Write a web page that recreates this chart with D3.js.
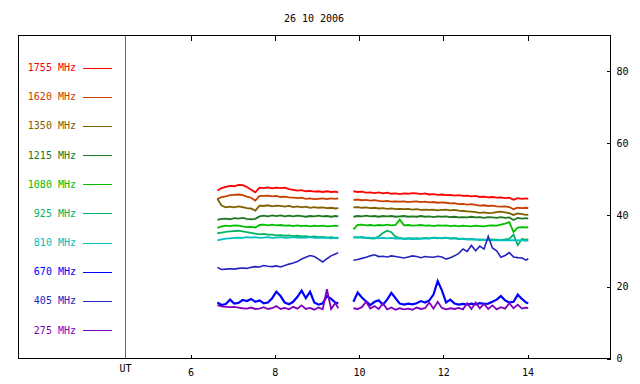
<!DOCTYPE html>
<html>
<head>
<meta charset="utf-8">
<script src="https://cdn.jsdelivr.net/npm/d3@7"></script>
<style>
  html, body { margin: 0; padding: 0; background: #fff; }
  svg { display: block; }
  text { font-family: "DejaVu Sans Mono", monospace; font-size: 10px; }
</style>
</head>
<body>
<svg id="chart" width="640" height="384"></svg>
<script>
// ---------------- data ----------------
const title = "26 10 2006";
const freqLabels = ["1755 MHz","1620 MHz","1350 MHz","1215 MHz","1080 MHz","925 MHz","810 MHz","670 MHz","405 MHz","275 MHz"];
const xTicks = [6, 8, 10, 12, 14];
const yTicks = [0, 20, 40, 60, 80];

const hours = [
  6.65,6.75,6.85,6.95,7.05,7.15,7.25,7.35,7.45,7.55, 7.65,7.75,7.85,7.95,8.05,8.15,8.25,8.35,8.45,8.55,
  8.65,8.75,8.85,8.95,9.05,9.15,9.25,9.35,9.45,9.52,
  9.7,
  9.88,9.98,10.08,10.18,10.28,10.38,10.48,10.58,10.68,10.78, 10.88,10.98,11.08,11.18,11.28,11.38,11.48,11.58,11.68,11.78,
  11.88,11.98,12.08,12.18,12.28,12.38,12.48,12.58,12.68,12.78, 12.88,12.98,13.08,13.18,13.28,13.38,13.48,13.58,13.68,13.78,
  13.88,13.98,14.03
];

const f1755 = [
  46.8,47.5,47.8,48.1,48.0,48.4,48.3,47.8,47.0,46.3, 47.6,47.5,47.7,47.4,47.6,47.5,47.6,47.2,47.0,46.8,
  46.9,46.6,46.7,46.5,46.6,46.4,46.6,46.4,46.5,46.3,
  null,
  46.6,46.4,46.5,46.2,46.3,46.1,46.3,46.0,46.2,45.9, 46.0,45.8,46.0,45.9,46.1,46.0,45.8,46.0,45.7,45.8,
  45.6,45.7,45.5,45.6,45.4,45.5,45.3,45.4,45.2,45.3, 45.0,45.1,44.9,45.0,44.8,44.9,44.7,44.8,44.2,44.7,
  44.5,44.6,44.5
];
const f1620 = [
  44.4,45.0,45.2,45.5,45.6,45.7,45.5,45.1,44.8,44.0, 45.3,45.3,45.4,45.2,45.3,45.0,45.1,44.9,44.8,44.7,
  44.8,44.5,44.6,44.4,44.5,44.6,44.4,44.6,44.5,44.6,
  null,
  44.2,44.3,44.1,44.2,44.0,44.1,43.9,43.8,43.9,43.7, 43.8,43.7,43.8,43.6,43.7,43.8,43.6,43.7,43.5,43.6,
  43.4,43.5,43.4,43.2,43.3,43.0,43.1,42.9,43.0,42.8, 42.6,42.7,42.5,42.6,42.4,42.3,42.4,42.2,41.6,42.0,
  41.9,42.0,41.9
];
const f1350 = [
  44.5,42.6,42.1,42.3,42.1,42.4,42.2,41.9,41.8,41.2, 42.6,42.5,42.7,42.4,42.6,42.5,42.3,42.5,42.2,42.4,
  42.1,42.3,42.0,42.2,42.0,42.1,41.9,42.0,41.8,41.9,
  null,
  42.1,42.2,42.0,42.1,41.9,42.0,41.8,41.9,41.7,41.8, 41.6,41.7,41.6,41.7,41.5,41.6,41.4,41.5,41.4,41.5,
  41.3,41.4,41.5,41.3,41.4,41.2,41.1,41.0,40.9,40.8, 40.6,40.7,40.5,40.6,40.8,40.9,40.7,40.5,40.0,40.4,
  40.2,40.0,40.1
];
const f1215 = [
  38.6,38.9,39.0,38.8,39.1,39.0,39.2,38.9,38.8,38.9, 39.6,39.8,39.6,39.9,39.7,39.9,39.6,39.8,39.6,39.8,
  39.7,39.5,39.7,39.6,39.8,39.6,39.7,39.5,39.7,39.6,
  null,
  39.5,39.7,39.6,39.8,39.6,39.7,39.5,39.7,39.6,39.7, 39.5,39.6,39.7,39.5,39.6,39.5,39.7,39.5,39.6,39.4,
  39.6,39.5,39.6,39.4,39.5,39.3,39.4,39.3,39.5,39.3, 39.4,39.2,39.4,39.3,39.2,39.4,39.2,39.3,38.6,39.2,
  39.0,39.1,39.0
];
const f1080 = [
  36.4,36.8,37.0,36.9,37.1,37.0,36.8,36.6,36.7,36.5, 37.2,37.3,37.1,37.3,37.1,37.2,37.0,37.1,36.9,37.1,
  36.9,37.0,36.8,37.0,36.9,37.0,36.8,36.9,37.0,36.9,
  null,
  36.0,37.2,37.3,37.1,37.2,37.0,37.2,37.1,37.3,37.1, 37.2,38.7,37.1,37.2,37.0,37.1,37.2,37.0,37.1,36.9,
  37.1,37.0,37.1,36.9,37.0,36.8,37.0,36.9,36.8,37.0, 36.9,36.8,37.0,37.1,37.0,37.3,37.6,38.0,35.2,36.5,
  36.6,36.5,36.6
];
const f925 = [
  34.9,35.1,35.3,35.4,35.5,35.6,35.4,35.2,35.0,34.8, 34.6,34.7,34.5,34.5,34.3,34.4,34.2,34.3,34.1,34.2,
  34.0,34.1,33.9,34.0,33.8,33.9,33.7,33.8,33.6,33.7,
  null,
  33.8,33.7,33.9,33.6,33.5,33.4,34.0,35.0,35.6,35.2, 33.9,33.6,33.4,33.5,33.3,33.5,33.4,33.6,33.5,33.7,
  33.6,33.5,33.6,33.4,33.5,33.3,33.4,33.2,33.3,33.1, 33.2,33.1,33.0,33.2,33.1,33.0,33.2,33.3,34.5,31.6,
  33.3,33.1,33.2
];
const f810 = [
  32.9,33.2,33.4,33.5,33.6,33.7,33.6,33.8,33.7,33.8, 33.6,33.7,33.8,33.6,33.7,33.8,33.6,33.7,33.8,33.7,
  33.6,33.7,33.8,33.6,33.7,33.6,33.7,33.5,33.6,33.5,
  null,
  33.7,33.8,33.6,33.7,33.6,33.7,33.5,33.6,33.5,33.6, 33.4,33.5,33.3,33.4,33.5,33.3,33.4,33.5,33.4,33.6,
  33.5,33.6,33.7,33.5,33.6,33.4,33.3,33.2,33.3,33.2, 33.0,33.1,33.0,32.9,33.0,32.9,33.0,32.9,33.0,32.9,
  33.0,32.8,32.9
];
const f670 = [
  15.6,14.9,15.2,16.4,15.3,15.5,16.3,16.0,16.6,15.8, 16.2,15.4,15.6,16.8,18.6,17.4,15.6,15.1,15.8,17.2,
  18.9,16.8,18.6,15.6,15.0,15.4,17.4,16.6,15.6,15.4,
  null,
  15.8,18.4,17.0,15.9,14.9,15.8,16.2,15.0,16.4,18.3, 16.8,15.3,15.0,15.3,15.1,15.4,16.0,15.6,16.2,17.8,
  21.6,19.0,15.6,16.4,15.3,15.0,15.2,15.0,15.3,15.1, 15.4,15.2,15.3,15.8,16.4,17.4,16.2,15.6,15.8,17.8,
  16.6,15.6,15.4
];
const f405 = [
  25.4,24.8,24.9,25.0,24.9,25.1,25.2,25.1,25.4,25.6, 25.5,25.9,25.7,25.6,25.8,25.5,25.9,26.3,26.6,27.0,
  27.7,28.2,28.7,28.4,27.7,26.9,27.8,28.6,29.1,29.5,
  null,
  27.4,27.6,27.9,28.2,28.6,28.9,28.4,28.5,28.3,28.6, 28.4,28.2,28.0,28.3,28.6,28.4,28.1,28.4,28.3,28.2,
  28.5,28.3,27.7,28.1,28.6,29.3,30.5,29.8,31.5,30.0, 31.3,30.5,34.0,30.8,30.0,28.2,28.7,29.5,28.3,28.1,
  28.0,27.4,27.8
];
const f275 = [
  14.9,14.5,14.4,14.3,14.4,14.2,14.0,13.9,14.2,13.8, 13.9,14.3,13.8,14.0,14.6,13.8,14.1,13.7,14.4,13.9,
  14.8,13.8,14.1,13.6,14.2,13.7,19.3,13.8,15.5,14.0,
  null,
  14.0,13.8,14.3,15.8,13.9,14.6,13.8,15.4,13.7,14.2, 13.6,14.0,13.7,13.9,13.6,14.2,13.8,14.0,15.6,13.9,
  15.8,14.1,13.7,14.0,13.8,14.1,13.7,15.4,13.8,15.6, 14.0,15.2,13.8,14.8,13.7,14.3,13.9,15.4,14.0,15.0,
  13.9,14.2,14.0
];

const seriesValues = [f1755, f1620, f1350, f1215, f1080, f925, f810, f670, f405, f275];
const colors = ["#ff0000","#c84000","#806000","#207820","#00c000","#00b464","#00c0c0","#0000ff","#2424c0","#8000c0"];
const widths = [1.8, 1.8, 1.8, 1.8, 1.8, 1.8, 1.8, 2.2, 1.6, 1.8];

// ---------------- drawing ----------------
const svg = d3.select("#chart");
const frame = {left: 18, top: 35, right: 610, bottom: 358};
const utX = 125;

const x = d3.scaleLinear().domain([6, 14]).range([190, 527]);
const y = d3.scaleLinear().domain([0, 90]).range([358.5, 35.5]);

svg.append("rect").attr("width", 640).attr("height", 384).attr("fill", "#fff");

// title
svg.append("text").attr("x", 314).attr("y", 22).attr("text-anchor", "middle")
  .attr("fill", "#000").text(title);

// data lines
const line = d3.line()
  .defined(d => d[1] != null)
  .x(d => x(d[0]))
  .y(d => y(d[1]));

seriesValues.forEach((vals, i) => {
  svg.append("path")
    .datum(hours.map((h, j) => [h, vals[j]]))
    .attr("fill", "none")
    .attr("stroke", colors[i])
    .attr("stroke-width", widths[i])
    .attr("stroke-linejoin", "miter")
    .attr("d", line);
});

// UT separator
svg.append("line").attr("x1", utX + 0.5).attr("x2", utX + 0.5)
  .attr("y1", frame.top).attr("y2", frame.bottom)
  .attr("stroke", "#666").attr("stroke-width", 1);

// frame
svg.append("rect")
  .attr("x", frame.left + 0.5).attr("y", frame.top + 0.5)
  .attr("width", frame.right - frame.left).attr("height", frame.bottom - frame.top)
  .attr("fill", "none").attr("stroke", "#000").attr("stroke-width", 1)
  .attr("shape-rendering", "crispEdges");

// bottom axis (inward ticks)
const xAxisB = d3.axisBottom(x).tickValues(xTicks).tickSizeInner(-4).tickSizeOuter(0).tickPadding(10);
const gB = svg.append("g").attr("transform", `translate(0.5,${frame.bottom + 0.5})`).call(xAxisB);
gB.select(".domain").remove();
gB.selectAll("line").attr("stroke", "#000").attr("shape-rendering", "crispEdges");
gB.selectAll("text").attr("fill", "#000").style("font-family", "DejaVu Sans Mono").style("font-size", "10px");

// top axis (inward ticks, no labels)
const xAxisT = d3.axisTop(x).tickValues(xTicks).tickSizeInner(-5).tickSizeOuter(0).tickFormat("");
const gT = svg.append("g").attr("transform", `translate(0.5,${frame.top + 0.5})`).call(xAxisT);
gT.select(".domain").remove();
gT.selectAll("line").attr("stroke", "#000").attr("shape-rendering", "crispEdges");

// right axis
const yAxis = d3.axisRight(y).tickValues(yTicks).tickSizeInner(-4).tickSizeOuter(0).tickPadding(6);
const gR = svg.append("g").attr("transform", `translate(${frame.right + 0.5},0)`).call(yAxis);
gR.select(".domain").remove();
gR.selectAll("line").attr("stroke", "#000").attr("shape-rendering", "crispEdges");
gR.selectAll("text").attr("fill", "#000").style("font-family", "DejaVu Sans Mono").style("font-size", "10px");

// UT label
svg.append("text").attr("x", utX + 0.5).attr("y", 372).attr("text-anchor", "middle")
  .attr("fill", "#000").text("UT");

// legend
const legendY = d3.scalePoint().domain(freqLabels).range([67.5, 330]);
freqLabels.forEach((lab, i) => {
  const yy = legendY(lab);
  svg.append("text").attr("x", 76).attr("y", yy + 3.5).attr("text-anchor", "end")
    .attr("fill", colors[i]).text(lab);
  svg.append("line").attr("x1", 83).attr("x2", 112)
    .attr("y1", Math.round(yy) + 0.5).attr("y2", Math.round(yy) + 0.5)
    .attr("stroke", colors[i]).attr("stroke-width", 1);
});
</script>
</body>
</html>
